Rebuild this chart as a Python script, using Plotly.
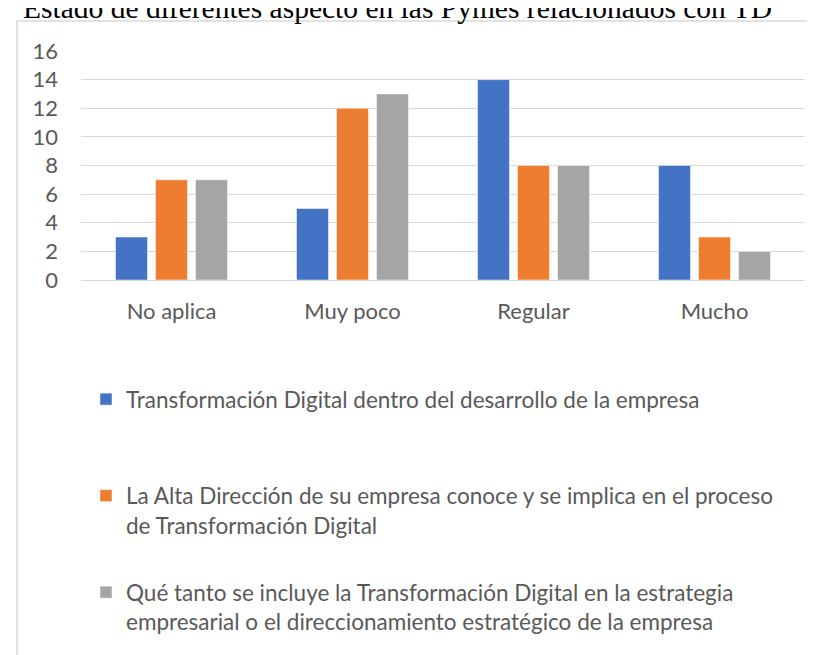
import plotly.graph_objects as go

categories = ["No aplica", "Muy poco", "Regular", "Mucho"]
series_names = [
    "Transformación Digital dentro del desarrollo de la empresa<br> ",
    "La Alta Dirección de su empresa conoce y se implica en el proceso<br>de Transformación Digital",
    "Qué tanto se incluye la Transformación Digital en la estrategia<br>empresarial o el direccionamiento estratégico de la empresa",
]
serie_td_desarrollo = [3, 5, 14, 8]
serie_alta_direccion = [7, 12, 8, 3]
serie_estrategia = [7, 13, 8, 2]
series_values = [serie_td_desarrollo, serie_alta_direccion, serie_estrategia]
colors = ["#4472C4", "#ED7D31", "#A5A5A5"]
y_ticks = [0, 2, 4, 6, 8, 10, 12, 14, 16]
title_text = "Estado de diferentes aspecto en las Pymes relacionados con TD"

W, H = 815, 655
L, R, T, B = 73, 18, 43, 383
pw = W - L - R
ph = H - T - B

def px_x(px):
    return (px - L) / pw

def px_y(py):
    return (H - B - py) / ph

fig = go.Figure()
for i, (name, vals, col) in enumerate(zip(series_names, series_values, colors)):
    fig.add_trace(go.Bar(
        x=categories, y=vals, name=name,
        marker=dict(color=col, line=dict(color="white", width=0.5)),
        legendgroup=f"g{i}",
    ))

font_main = "Lato, 'Open Sans', sans-serif"

fig.update_layout(
    width=W, height=H,
    margin=dict(l=L, r=R, t=T, b=B),
    paper_bgcolor="white", plot_bgcolor="white",
    barmode="group", bargap=0.337, bargroupgap=0.2,
    showlegend=True,
    font=dict(family=font_main, size=22, color="#595959"),
    legend=dict(
        x=px_x(78), y=px_y(370), xanchor="left", yanchor="top",
        orientation="v", valign="top",
        tracegroupgap=35,
        font=dict(family=font_main, size=22.5, color="#595959"),
        bgcolor="rgba(0,0,0,0)",
    ),
    xaxis=dict(
        showgrid=False, zeroline=False, showline=False, ticks="",
        tickfont=dict(family=font_main, size=22, color="#595959"),
        ticklabelstandoff=16,
    ),
    yaxis=dict(
        range=[0, 16], tickvals=y_ticks, ticktext=[str(v) for v in y_ticks],
        showgrid=True, gridcolor="#D9D9D9", gridwidth=1.3,
        zeroline=True, zerolinecolor="#D9D9D9", zerolinewidth=1.3,
        showline=False, ticks="",
        tickfont=dict(family=font_main, size=22, color="#595959"),
        ticklabelstandoff=22,
    ),
    shapes=[dict(
        type="rect", xref="paper", yref="paper",
        x0=px_x(9), x1=px_x(830), y0=px_y(13), y1=px_y(670),
        line=dict(color="#D9D9D9", width=1.5), fillcolor="rgba(0,0,0,0)",
        layer="below",
    )],
    annotations=[dict(
        text=title_text, xref="paper", yref="paper",
        x=px_x(13), y=px_y(18), xanchor="left", yanchor="bottom",
        showarrow=False,
        font=dict(family="'Liberation Serif', 'Times New Roman', serif", size=29.5, color="black"),
    )],
)

fig.write_html("out.html", config={"displayModeBar": False})
